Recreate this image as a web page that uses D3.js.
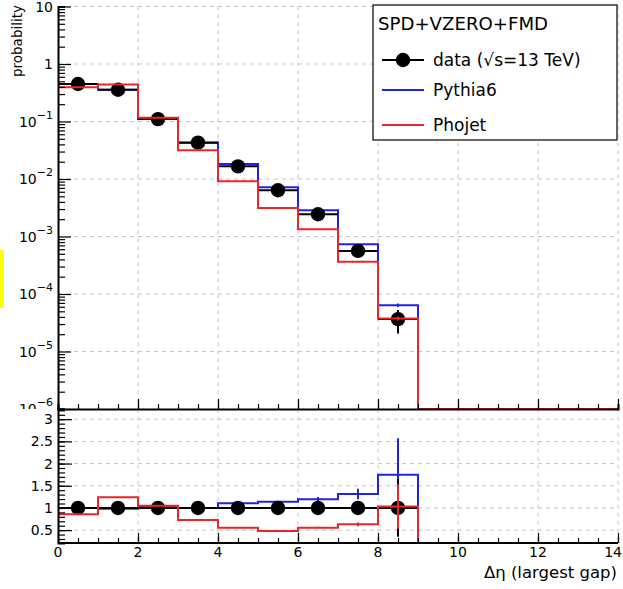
<!DOCTYPE html>
<html><head><meta charset="utf-8">
<script src="https://cdn.jsdelivr.net/npm/d3@7"></script>
<style>
body{margin:0;background:#fff;}
svg{display:block;}
text{font-family:"DejaVu Sans",sans-serif;fill:#000;}
</style>
</head><body>
<svg id="c" width="623" height="589"></svg>
<script>
// ---------------- data ----------------
const binEdges   = [0,1,2,3,4,5,6,7,8,9,10,11,12,13,14];
const dataVals   = [0.449,0.357,0.110,0.0428,0.0166,0.00637,0.00244,0.000562,0.0000366,0,0,0,0,0];
const dataErr    = [0.004,0.003,0.001,0.0005,0.0002,0.0001,0.00005,0.00003,0.000016,0,0,0,0,0];
const pythiaVals = [0.450,0.357,0.110,0.0430,0.0182,0.00718,0.00286,0.000735,0.000064,0,0,0,0,0];
const pythiaErr  = [0,0,0,0,0,0,0,0.00001,0.0000045,0,0,0,0,0];
const phojetVals = [0.396,0.440,0.116,0.0316,0.00912,0.00314,0.00134,0.000362,0.0000376,0,0,0,0,0];
const phojetErr  = [0,0,0,0,0,0,0,0.000005,0.000003,0,0,0,0,0];

const ratioData      = [1,1,1,1,1,1,1,1,1,0,0,0,0,0];
const ratioDataErr   = [0.01,0.01,0.01,0.01,0.01,0.02,0.02,0.05,0.65,0,0,0,0,0];
const ratioPythia    = [1.00,0.98,1.02,1.00,1.105,1.14,1.195,1.315,1.75,0,0,0,0,0];
const ratioPythiaErr = [0,0,0,0,0.01,0.02,0.05,0.12,0.82,0,0,0,0,0];
const ratioPhojet    = [0.86,1.24,1.05,0.73,0.556,0.48,0.556,0.63,1.03,0,0,0,0,0];
const ratioPhojetErr = [0,0,0,0,0,0.01,0.02,0.04,0.50,0,0,0,0,0];

const xMajorTicks = [0,2,4,6,8,10,12,14];
const logMajorTicks = [1e-6,1e-5,1e-4,1e-3,1e-2,1e-1,1,10];
const ratioMajorTicks = [0.5,1,1.5,2,2.5,3];

const legendHeader = "SPD+VZERO+FMD";
const legendLabels = ["data (\u221As=13 TeV)","Pythia6","Phojet"];
const yTitle = "probability";
const xTitle = "\u0394\u03B7 (largest gap)";

// ---------------- layout ----------------
const BLUE = "#2020ee", RED = "#ee2424", GRID = "#c4c4c4";
const svg = d3.select("#c");
const X0 = 58, X1 = 618;
const TOP0 = 6.5, TOP1 = 409, LOW0 = 409, LOW1 = 543;

const x = d3.scaleLinear().domain([0,14]).range([X0,X1]);
const yT = d3.scaleLog().domain([1e-6,10]).range([TOP1,TOP0]).clamp(true);
const yR = d3.scaleLinear().domain([0.21,3.23]).range([LOW1,LOW0]).clamp(true);

// yellow marker at left edge
svg.append("rect").attr("x",0).attr("y",250).attr("width",4).attr("height",58).attr("fill","#ffff00");

const defs = svg.append("defs");
defs.append("clipPath").attr("id","clipT").append("rect").attr("x",X0).attr("y",TOP0-1).attr("width",X1-X0+2).attr("height",TOP1-TOP0+1);
defs.append("clipPath").attr("id","clipR").append("rect").attr("x",X0).attr("y",LOW0).attr("width",X1-X0+3).attr("height",LOW1-LOW0+2);
defs.append("clipPath").attr("id","clipLab").append("rect").attr("x",0).attr("y",0).attr("width",X0).attr("height",409);

// ---------------- grids ----------------
const gridT = svg.append("g").attr("stroke",GRID).attr("stroke-dasharray","4,4").attr("stroke-width",1);
gridT.selectAll("line.v").data(xMajorTicks.filter(d=>d>0)).join("line")
  .attr("x1",d=>x(d)).attr("x2",d=>x(d)).attr("y1",TOP0).attr("y2",TOP1);
gridT.selectAll("line.h").data(logMajorTicks.filter(d=>d>1e-6)).join("line").attr("class","h")
  .attr("x1",X0).attr("x2",X1).attr("y1",d=>yT(d)).attr("y2",d=>yT(d));
const gridR = svg.append("g").attr("stroke",GRID).attr("stroke-dasharray","4,4").attr("stroke-width",1);
gridR.selectAll("line.v").data(xMajorTicks.filter(d=>d>0)).join("line")
  .attr("x1",d=>x(d)).attr("x2",d=>x(d)).attr("y1",LOW0).attr("y2",LOW1);
gridR.selectAll("line.h").data(ratioMajorTicks).join("line").attr("class","h")
  .attr("x1",X0).attr("x2",X1).attr("y1",d=>yR(d)).attr("y2",d=>yR(d));

// ---------------- helpers ----------------
function stepPoints(vals, yScale, floor){
  const pts = [];
  vals.forEach((v,i)=>{
    const vv = v>0 ? v : floor;
    pts.push([x(binEdges[i]), yScale(vv)]);
    pts.push([x(binEdges[i+1]), yScale(vv)]);
  });
  return pts;
}
const line = d3.line();
function drawHist(g, vals, yScale, floor, color){
  g.append("path").attr("d", line(stepPoints(vals,yScale,floor)))
   .attr("fill","none").attr("stroke",color).attr("stroke-width",2);
}
function drawErr(g, vals, errs, yScale, color){
  vals.forEach((v,i)=>{
    if(v>0 && errs[i]>0){
      const cx = x((binEdges[i]+binEdges[i+1])/2);
      g.append("line").attr("x1",cx).attr("x2",cx)
       .attr("y1",yScale(v+errs[i])).attr("y2",yScale(Math.max(v-errs[i],1e-9)))
       .attr("stroke",color).attr("stroke-width",2);
    }
  });
}
function drawData(g, vals, errs, yScale){
  vals.forEach((v,i)=>{
    if(v<=0) return;
    g.append("line").attr("x1",x(binEdges[i])).attr("x2",x(binEdges[i+1]))
     .attr("y1",yScale(v)).attr("y2",yScale(v)).attr("stroke","#000").attr("stroke-width",2);
  });
  drawErr(g, vals, errs, yScale, "#000");
  vals.forEach((v,i)=>{
    if(v<=0) return;
    const cx = x((binEdges[i]+binEdges[i+1])/2);
    g.append("circle").attr("cx",cx).attr("cy",yScale(v)).attr("r",7.2).attr("fill","#000");
  });
}

// ---------------- top panel ----------------
const gT = svg.append("g").attr("clip-path","url(#clipT)");
drawHist(gT, pythiaVals, yT, 1e-6, BLUE);
drawErr(gT, pythiaVals, pythiaErr, yT, BLUE);
drawData(gT, dataVals, dataErr, yT);
drawHist(gT, phojetVals, yT, 1e-6, RED);
drawErr(gT, phojetVals, phojetErr, yT, RED);

// ---------------- ratio panel ----------------
const gR = svg.append("g").attr("clip-path","url(#clipR)");
svg.append("line").attr("x1",X0).attr("x2",X1).attr("y1",LOW1).attr("y2",LOW1).attr("stroke","#000").attr("stroke-width",2);
drawHist(gR, ratioPythia, yR, 0, BLUE);
drawErr(gR, ratioPythia, ratioPythiaErr, yR, BLUE);
drawData(gR, ratioData, ratioDataErr, yR);
drawHist(gR, ratioPhojet, yR, 0, RED);
drawErr(gR, ratioPhojet, ratioPhojetErr, yR, RED);

// ---------------- axes ----------------
const ax = svg.append("g");
const xMinor = d3.range(0,14.01,0.5);
ax.append("g").attr("transform",`translate(0,${TOP1})`)
  .call(d3.axisTop(x).tickValues(xMinor).tickSize(5).tickFormat(""))
  .call(g=>g.select(".domain").attr("stroke-width",2));
ax.append("g").attr("transform",`translate(0,${TOP1})`)
  .call(d3.axisTop(x).tickValues(xMajorTicks).tickSize(10).tickFormat(""))
  .call(g=>g.select(".domain").remove());
ax.append("g").attr("transform",`translate(0,${LOW1})`)
  .call(d3.axisTop(x).tickValues(xMinor).tickSize(5).tickFormat(""))
  .call(g=>g.select(".domain").remove());
ax.append("g").attr("transform",`translate(0,${LOW1})`)
  .call(d3.axisTop(x).tickValues(xMajorTicks).tickSize(10).tickFormat(""))
  .call(g=>g.select(".domain").remove());

const logMinor = [];
logMajorTicks.slice(0,-1).forEach(d=>{ for(let k=2;k<=9;k++) logMinor.push(d*k); });
const yAxT = ax.append("g").attr("transform",`translate(${X0},0)`);
yAxT.call(d3.axisRight(yT).tickValues(logMinor).tickSize(7).tickFormat(""))
  .call(g=>g.select(".domain").attr("stroke-width",2));
yAxT.append("g").call(d3.axisRight(yT).tickValues(logMajorTicks).tickSize(13).tickFormat(""))
  .call(g=>g.select(".domain").remove());
const ratioMinor = d3.range(0.3,3.21,0.1).map(d=>+d.toFixed(1));
const yAxR = ax.append("g").attr("transform",`translate(${X0},0)`);
yAxR.call(d3.axisRight(yR).tickValues(ratioMinor).tickSize(7).tickFormat(""))
  .call(g=>g.select(".domain").attr("stroke-width",2));
yAxR.append("g").call(d3.axisRight(yR).tickValues(ratioMajorTicks).tickSize(14).tickFormat(""))
  .call(g=>g.select(".domain").remove());
ax.selectAll(".tick line").attr("stroke","#000").attr("stroke-width",1.2);

// tick labels
const labT = svg.append("g").attr("clip-path","url(#clipLab)");
logMajorTicks.forEach(d=>{
  const e = Math.round(Math.log10(d));
  const t = labT.append("text").attr("x",53).attr("y",yT(d)+5).attr("text-anchor","end").attr("font-size",14);
  if(e===0) t.text("1");
  else if(e===1) t.text("10");
  else {
    t.append("tspan").text("10");
    t.append("tspan").attr("dy",-8).attr("font-size",11).text("\u2212"+Math.abs(e));
  }
});
ratioMajorTicks.forEach(d=>{
  svg.append("text").attr("x",53).attr("y",yR(d)+5).attr("text-anchor","end").attr("font-size",14)
    .text(d3.format("~g")(d));
});
xMajorTicks.forEach(d=>{
  const last = d===14;
  svg.append("text").attr("x",last?622:x(d)).attr("y",557)
    .attr("text-anchor",last?"end":"middle").attr("font-size",14).text(d);
});

// axis titles
svg.append("text").attr("transform","translate(22,5) rotate(-90)").attr("text-anchor","end")
  .attr("font-size",13.5).text(yTitle);
svg.append("text").attr("x",617).attr("y",578).attr("text-anchor","end").attr("font-size",16.5).text(xTitle);

// ---------------- legend ----------------
const lg = svg.append("g");
lg.append("rect").attr("x",373).attr("y",5).attr("width",244).attr("height",135)
  .attr("fill","#fff").attr("stroke","#000").attr("stroke-width",1.2);
lg.append("text").attr("x",378).attr("y",30).attr("font-size",17).attr("textLength",170)
  .attr("lengthAdjust","spacingAndGlyphs").text(legendHeader);
const entryY = [60,90,125];
const entryColor = ["#000",BLUE,RED];
legendLabels.forEach((lab,i)=>{
  lg.append("line").attr("x1",382).attr("x2",424).attr("y1",entryY[i]).attr("y2",entryY[i])
    .attr("stroke",entryColor[i]).attr("stroke-width",2);
  if(i===0) lg.append("circle").attr("cx",403).attr("cy",entryY[i]).attr("r",7.2).attr("fill","#000");
  lg.append("text").attr("x",433).attr("y",entryY[i]+6).attr("font-size",17).text(lab);
});
</script>
</body></html>
